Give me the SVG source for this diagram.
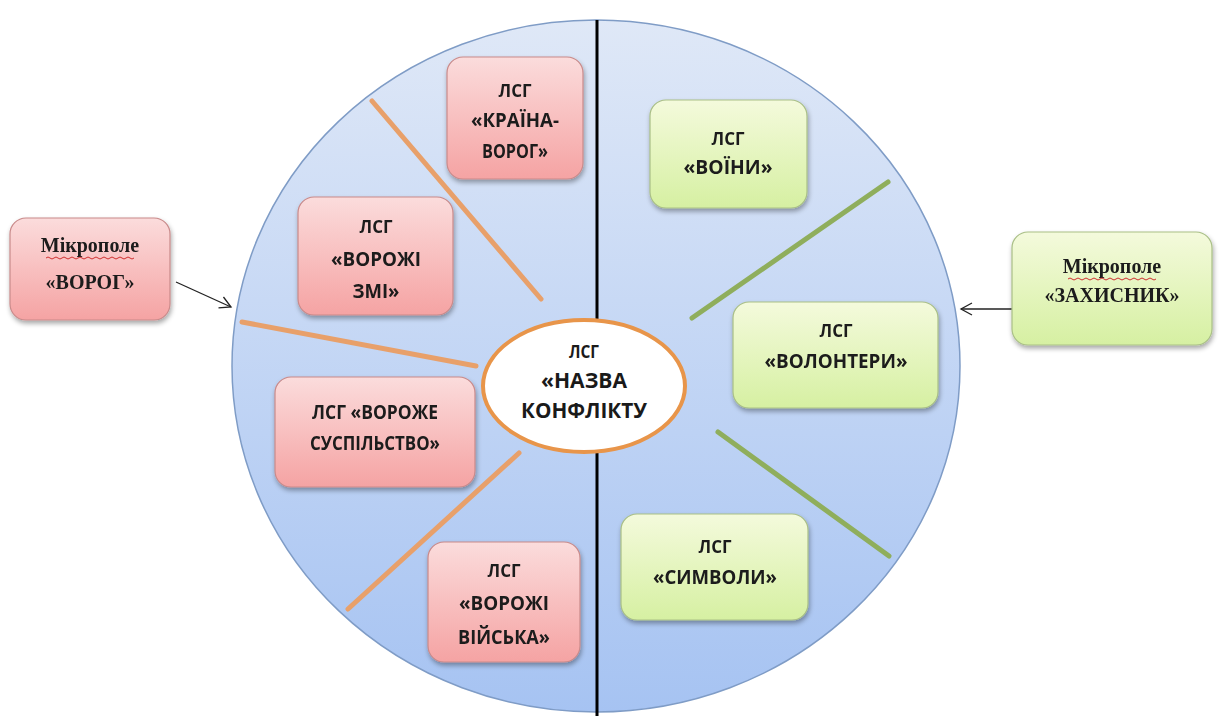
<svg xmlns="http://www.w3.org/2000/svg" width="1219" height="716" viewBox="0 0 1219 716">
<defs>
<linearGradient id="gBlue" x1="0" y1="0" x2="0" y2="1">
<stop offset="0" stop-color="#dfe8f7"/>
<stop offset="1" stop-color="#a6c3f2"/>
</linearGradient>
<linearGradient id="gRed" x1="0" y1="0" x2="0" y2="1">
<stop offset="0" stop-color="#fbdcdc"/>
<stop offset="1" stop-color="#f5a3a3"/>
</linearGradient>
<linearGradient id="gGreen" x1="0" y1="0" x2="0" y2="1">
<stop offset="0" stop-color="#f4fadc"/>
<stop offset="1" stop-color="#d6f0a2"/>
</linearGradient>
<filter id="sh" x="-20%" y="-20%" width="140%" height="150%">
<feGaussianBlur in="SourceAlpha" stdDeviation="2.5"/>
<feOffset dx="1" dy="3" result="b"/>
<feComponentTransfer><feFuncA type="linear" slope="0.35"/></feComponentTransfer>
<feMerge><feMergeNode/><feMergeNode in="SourceGraphic"/></feMerge>
</filter>
<marker id="arr" markerWidth="14" markerHeight="14" refX="12" refY="7" orient="auto" markerUnits="userSpaceOnUse">
<path d="M1,1 L12,7 L1,13" fill="none" stroke="#222" stroke-width="1.3"/>
</marker>
</defs>
<style>
.red{fill:url(#gRed);stroke:#c98a8a;stroke-width:1.2}
.green{fill:url(#gGreen);stroke:#a9bf86;stroke-width:1.2}
.t{font-family:"Open Sans","Liberation Sans",sans-serif;font-weight:700;font-size:20px;fill:#1a1a1a;text-anchor:middle}
.s{font-size:17px}
.c{font-size:22px}
.m{font-family:"Liberation Serif","Times New Roman",serif;font-weight:700;font-size:20px;fill:#1a1a1a;text-anchor:middle}
.ol{stroke:#e8a06a;stroke-width:5;stroke-linecap:round}
.gl{stroke:#8fae5c;stroke-width:5;stroke-linecap:round}
.wavy{fill:none;stroke:#d03030;stroke-width:1}
</style>
<rect width="1219" height="716" fill="#ffffff"/>
<g id="field">
<ellipse cx="596" cy="366" rx="364" ry="346" fill="url(#gBlue)" stroke="#7f9cc6" stroke-width="1.5"/>
<line x1="597" y1="20" x2="597" y2="716" stroke="#000" stroke-width="3"/>
</g>
<g id="connectors">
<line class="ol" x1="372" y1="101" x2="541" y2="299"/>
<line class="ol" x1="242" y1="322" x2="476" y2="366"/>
<line class="ol" x1="519" y1="453" x2="348" y2="609"/>
<line class="gl" x1="888" y1="182" x2="692" y2="318"/>
<line class="gl" x1="718" y1="432" x2="889" y2="556"/>
<line x1="176" y1="282" x2="231" y2="307" stroke="#222" stroke-width="1.3" marker-end="url(#arr)"/>
<line x1="1013" y1="309" x2="961" y2="309" stroke="#222" stroke-width="1.3" marker-end="url(#arr)"/>
</g>
<g id="center">
<ellipse cx="584" cy="386" rx="101" ry="66" fill="#ffffff" stroke="#e8954a" stroke-width="4"/>
<text class="t s" x="584" y="358" textLength="30" lengthAdjust="spacingAndGlyphs">ЛСГ</text>
<text class="t c" x="584" y="388" textLength="86" lengthAdjust="spacingAndGlyphs">«НАЗВА</text>
<text class="t c" x="584" y="418" textLength="126" lengthAdjust="spacingAndGlyphs">КОНФЛІКТУ</text>
</g>
<g id="micro-vorog" filter="url(#sh)">
<rect class="red" x="10" y="218" width="160" height="102" rx="16"/>
<text class="m" x="90" y="252">Мікрополе</text>
<path class="wavy" d="M46,258 q2,-2 4,0 t4,0 t4,0 t4,0 t4,0 t4,0 t4,0 t4,0 t4,0 t4,0 t4,0 t4,0 t4,0 t4,0 t4,0 t4,0 t4,0 t4,0 t4,0 t4,0 t4,0 t4,0"/>
<text class="m" x="90" y="289">«ВОРОГ»</text>
</g>
<g id="micro-zakhysnyk" filter="url(#sh)">
<rect class="green" x="1012" y="232" width="200" height="113" rx="16"/>
<text class="m" x="1112" y="273">Мікрополе</text>
<path class="wavy" d="M1068,279 q2,-2 4,0 t4,0 t4,0 t4,0 t4,0 t4,0 t4,0 t4,0 t4,0 t4,0 t4,0 t4,0 t4,0 t4,0 t4,0 t4,0 t4,0 t4,0 t4,0 t4,0 t4,0 t4,0"/>
<text class="m" x="1112" y="302">«ЗАХИСНИК»</text>
</g>
<g id="krayina-vorog" filter="url(#sh)">
<rect class="red" x="447" y="57" width="136" height="122" rx="16"/>
<text class="t s" x="515" y="97" textLength="33" lengthAdjust="spacingAndGlyphs">ЛСГ</text>
<text class="t" x="515" y="127" textLength="88" lengthAdjust="spacingAndGlyphs">«КРАЇНА-</text>
<text class="t" x="515" y="158" textLength="66" lengthAdjust="spacingAndGlyphs">ВОРОГ»</text>
</g>
<g id="vorozhi-zmi" filter="url(#sh)">
<rect class="red" x="298" y="197" width="155" height="118" rx="16"/>
<text class="t s" x="376" y="233" textLength="33" lengthAdjust="spacingAndGlyphs">ЛСГ</text>
<text class="t" x="376" y="266" textLength="90" lengthAdjust="spacingAndGlyphs">«ВОРОЖІ</text>
<text class="t" x="376" y="298" textLength="47" lengthAdjust="spacingAndGlyphs">ЗМІ»</text>
</g>
<g id="vorozhe-suspilstvo" filter="url(#sh)">
<rect class="red" x="275" y="377" width="200" height="110" rx="16"/>
<text class="t" x="375" y="419" textLength="126" lengthAdjust="spacingAndGlyphs">ЛСГ «ВОРОЖЕ</text>
<text class="t" x="375" y="450" textLength="130" lengthAdjust="spacingAndGlyphs">СУСПІЛЬСТВО»</text>
</g>
<g id="vorozhi-viyska" filter="url(#sh)">
<rect class="red" x="428" y="542" width="152" height="120" rx="16"/>
<text class="t s" x="504" y="577" textLength="33" lengthAdjust="spacingAndGlyphs">ЛСГ</text>
<text class="t" x="504" y="610" textLength="90" lengthAdjust="spacingAndGlyphs">«ВОРОЖІ</text>
<text class="t" x="504" y="644" textLength="92" lengthAdjust="spacingAndGlyphs">ВІЙСЬКА»</text>
</g>
<g id="voyiny" filter="url(#sh)">
<rect class="green" x="650" y="100" width="157" height="108" rx="16"/>
<text class="t s" x="728" y="145" textLength="33" lengthAdjust="spacingAndGlyphs">ЛСГ</text>
<text class="t" x="728" y="174" textLength="89" lengthAdjust="spacingAndGlyphs">«ВОЇНИ»</text>
</g>
<g id="volontery" filter="url(#sh)">
<rect class="green" x="733" y="302" width="205" height="106" rx="16"/>
<text class="t s" x="836" y="337" textLength="33" lengthAdjust="spacingAndGlyphs">ЛСГ</text>
<text class="t" x="836" y="368" textLength="143" lengthAdjust="spacingAndGlyphs">«ВОЛОНТЕРИ»</text>
</g>
<g id="symvoly" filter="url(#sh)">
<rect class="green" x="621" y="514" width="187" height="106" rx="16"/>
<text class="t s" x="715" y="553" textLength="33" lengthAdjust="spacingAndGlyphs">ЛСГ</text>
<text class="t" x="715" y="584" textLength="124" lengthAdjust="spacingAndGlyphs">«СИМВОЛИ»</text>
</g>
</svg>
